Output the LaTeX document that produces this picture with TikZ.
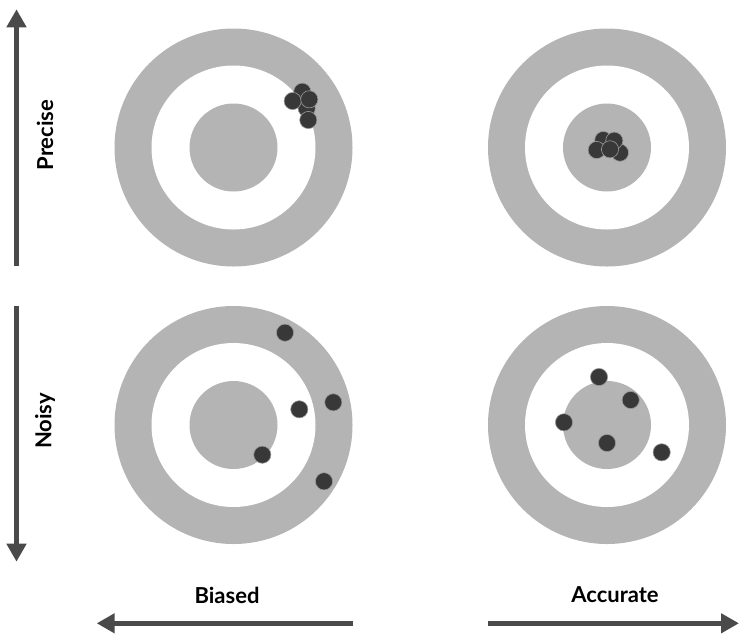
\documentclass[tikz,border=0pt]{standalone}
\usepackage{fontspec}
\setmainfont{Lato}
\usetikzlibrary{arrows.meta}
\definecolor{ring}{HTML}{B4B4B4}
\definecolor{shot}{HTML}{383838}
\definecolor{axis}{HTML}{4A4A4A}
\tikzset{
  shotdot/.style={fill=shot,draw=gray!80,line width=0.6pt},
  axisarrow/.style={draw=axis,line width=5pt,-{Triangle[width=19pt,length=18pt]}},
  lbl/.style={font=\bfseries\fontsize{22}{24}\selectfont,text=black,inner sep=0pt}
}
\newcommand{\target}[2]{%
  \fill[ring] (#1,#2) circle (119);
  \fill[white] (#1,#2) circle (82);
  \fill[ring] (#1,#2) circle (44);
}
\newcommand{\shotat}[2]{\draw[shotdot] (#1,#2) circle (8.6);}
\begin{document}
\begin{tikzpicture}[x=1pt,y=-1pt]
\useasboundingbox (0,0) rectangle (739,633);
\target{233.5}{147.5}
\target{607}{147.5}
\target{233.5}{425}
\target{607}{425}
% top-left cluster
\shotat{302.3}{91.7}
\shotat{306.7}{108.3}
\shotat{292.7}{101}
\shotat{309.3}{99.3}
\shotat{308.3}{120}
% top-right cluster
\shotat{603.3}{140}
\shotat{596.7}{150}
\shotat{620}{152.7}
\shotat{614.3}{140.7}
\shotat{610}{149.3}
% bottom-left
\shotat{285}{332.7}
\shotat{333.3}{402.3}
\shotat{299.3}{409.3}
\shotat{262.3}{454.7}
\shotat{324}{481.3}
% bottom-right
\shotat{599}{377}
\shotat{630.7}{400}
\shotat{564}{422.3}
\shotat{607}{443}
\shotat{661.7}{452.3}
% axes
\coordinate (pb) at (16.5,265.7);
\coordinate (pt) at (16.5,9.3);
\coordinate (nb) at (16.5,306);
\coordinate (nt) at (16.5,561.7);
\coordinate (bb) at (353.3,623.3);
\coordinate (bt) at (96.7,623.3);
\coordinate (ab) at (488,623.3);
\coordinate (at) at (739,623.3);
\draw[axisarrow] (pb) -- (pt);
\draw[axisarrow] (nb) -- (nt);
\draw[axisarrow] (bb) -- (bt);
\draw[axisarrow] (ab) -- (at);
\node[lbl,rotate=90] (precise) at (45,135) {Precise};
\node[lbl,rotate=90] (noisy) at (45,421) {Noisy};
\node[lbl] (biased) at (227,595) {Biased};
\node[lbl] (accurate) at (615,595) {Accurate};
\end{tikzpicture}
\end{document}
